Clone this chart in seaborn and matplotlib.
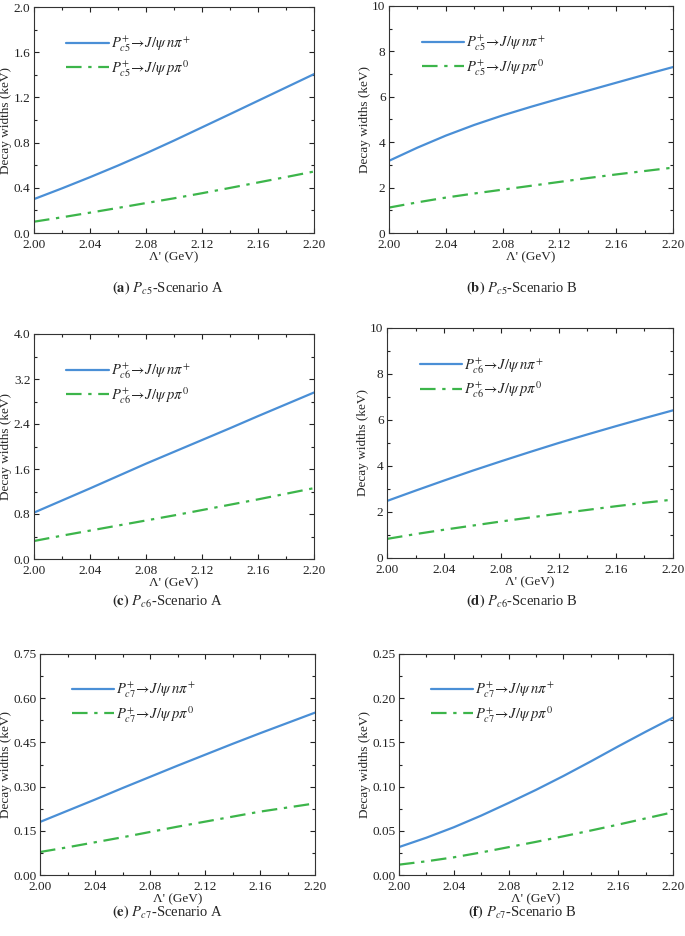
import numpy as np
import pandas as pd
import matplotlib
matplotlib.use("Agg")
import matplotlib.pyplot as plt
from matplotlib.ticker import MultipleLocator, FormatStrFormatter
import seaborn as sns

sns.set_theme(style="ticks")
plt.rcParams['font.family'] = ['Liberation Serif', 'DejaVu Serif']
plt.rcParams['mathtext.fontset'] = 'stix'

lam = [2.00, 2.02, 2.04, 2.06, 2.08, 2.10, 2.12, 2.14, 2.16, 2.18, 2.20]

a_n = [0.30, 0.395, 0.494, 0.597, 0.705, 0.818, 0.935, 1.052, 1.170, 1.288, 1.406]
a_p = [0.10, 0.139, 0.180, 0.222, 0.265, 0.307, 0.352, 0.399, 0.447, 0.495, 0.544]
b_n = [3.18, 3.76, 4.29, 4.76, 5.18, 5.56, 5.92, 6.27, 6.62, 6.97, 7.31]
b_p = [1.12, 1.35, 1.56, 1.74, 1.91, 2.08, 2.25, 2.42, 2.58, 2.73, 2.88]
c_n = [0.825, 1.04, 1.255, 1.475, 1.695, 1.905, 2.115, 2.325, 2.54, 2.75, 2.96]
c_p = [0.32, 0.415, 0.505, 0.595, 0.685, 0.775, 0.87, 0.965, 1.06, 1.16, 1.26]
d_n = [2.48, 2.93, 3.37, 3.80, 4.21, 4.61, 5.00, 5.37, 5.73, 6.08, 6.42]
d_p = [0.83, 1.04, 1.23, 1.41, 1.59, 1.76, 1.93, 2.09, 2.25, 2.40, 2.54]
e_n = [0.18, 0.218, 0.256, 0.295, 0.333, 0.371, 0.408, 0.445, 0.481, 0.516, 0.551]
e_p = [0.078, 0.094, 0.111, 0.128, 0.146, 0.164, 0.181, 0.198, 0.215, 0.229, 0.243]
f_n = [0.0316, 0.0422, 0.0540, 0.0672, 0.0815, 0.0963, 0.1120, 0.1285, 0.1455, 0.1620, 0.178]
f_p = [0.0117, 0.0155, 0.0200, 0.0255, 0.0315, 0.0375, 0.0438, 0.0503, 0.0570, 0.0640, 0.0710]

states = ['c5', 'c5', 'c6', 'c6', 'c7', 'c7']
letters = ['a', 'b', 'c', 'd', 'e', 'f']
scen = ['A', 'B', 'A', 'B', 'A', 'B']
ymax = [2.0, 10, 4.0, 10, 0.75, 0.25]
ystep = [0.4, 2, 0.8, 2, 0.15, 0.05]
yfmt = ['%.1f', '%d', '%.1f', '%d', '%.2f', '%.2f']
series_n = [a_n, b_n, c_n, d_n, e_n, f_n]
series_p = [a_p, b_p, c_p, d_p, e_p, f_p]

W, H = 685, 936
# (left, top, right, bottom) in pixels
boxes = [(34, 7, 314, 233), (389, 6, 673, 233),
         (34, 334, 314, 559), (387, 328, 673, 558),
         (40, 654, 315, 875), (399, 654, 673, 875)]
cap_xy = [(168, 288), (522, 288), (168, 601), (522, 601), (168, 912), (522, 912)]

blue = '#4a8fd6'
green = '#3cb54a'

fig = plt.figure(figsize=(W / 100, H / 100), dpi=100)

for i in range(6):
    l, t, r, b = boxes[i]
    ax = fig.add_axes([l / W, 1 - b / H, (r - l) / W, (b - t) / H])
    st = states[i]
    lab_n = r'$P_{%s}^{+}\!\rightarrow\! J/\psi\; n\pi^{+}$' % st
    lab_p = r'$P_{%s}^{+}\!\rightarrow\! J/\psi\; p\pi^{0}$' % st
    df = pd.DataFrame({
        'x': lam + lam,
        'y': series_n[i] + series_p[i],
        'ch': [lab_n] * len(lam) + [lab_p] * len(lam),
    })
    sns.lineplot(data=df, x='x', y='y', hue='ch', style='ch',
                 palette=[blue, green], dashes=['', (7, 3, 1.5, 3)],
                 linewidth=1.6, ax=ax, legend=True)
    ax.set_xlim(2.0, 2.2)
    ax.set_ylim(0, ymax[i])
    ax.xaxis.set_major_locator(MultipleLocator(0.04))
    ax.xaxis.set_minor_locator(MultipleLocator(0.02))
    ax.yaxis.set_major_locator(MultipleLocator(ystep[i]))
    ax.yaxis.set_minor_locator(MultipleLocator(ystep[i] / 2))
    ax.xaxis.set_major_formatter(FormatStrFormatter('%.2f'))
    ax.yaxis.set_major_formatter(FormatStrFormatter(yfmt[i]))
    ax.tick_params(which='both', direction='in', top=True, right=True,
                   labelsize=9.5, colors='#222222')
    ax.tick_params(axis='x', which='both', pad=4.5)
    ax.tick_params(axis='y', which='both', pad=2.5)
    ax.tick_params(which='major', length=3.5, width=0.8)
    ax.tick_params(which='minor', length=2, width=0.8)
    for sp in ax.spines.values():
        sp.set_linewidth(0.8)
        sp.set_color('#333333')
    ax.set_xlabel("Λ' (GeV)", fontsize=9.5, labelpad=0)
    ax.set_ylabel('Decay widths (keV)', fontsize=9.5, labelpad=1)
    leg = ax.legend(loc='upper left', bbox_to_anchor=(0.095, 0.905), frameon=False,
                    fontsize=10.5, handlelength=2.9, handletextpad=0.15,
                    labelspacing=0.25, borderaxespad=0)
    cx, cy = cap_xy[i]
    fig.text(cx / W, 1 - cy / H,
             r'$\mathbf{(%s)}$ $P_{%s}$-Scenario %s' % (letters[i], st, scen[i]),
             ha='center', va='center', fontsize=10.5)

fig.savefig('out.png', dpi=100)
